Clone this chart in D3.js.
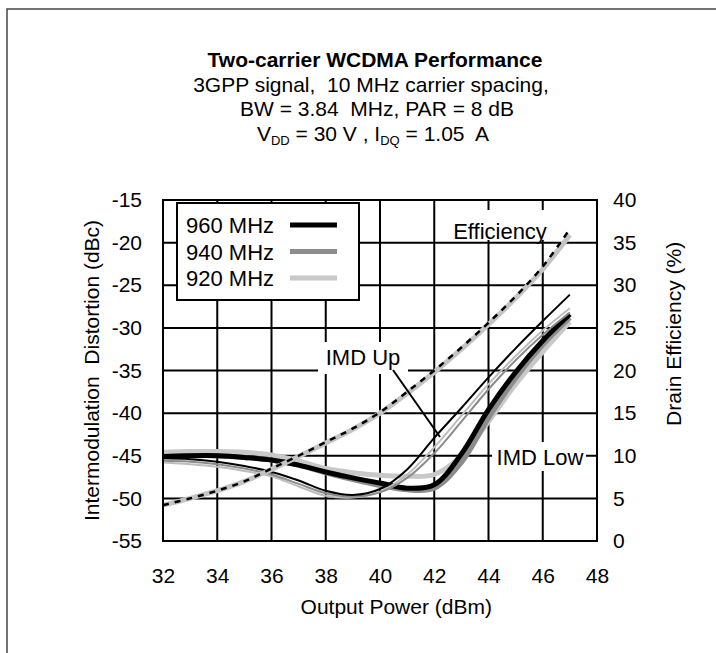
<!DOCTYPE html>
<html><head><meta charset="utf-8">
<script src="https://cdn.jsdelivr.net/npm/d3@7"></script>
<style>
html,body{margin:0;padding:0;background:#fff;}
svg text{font-family:"Liberation Sans",Arial,sans-serif;fill:#000;white-space:pre;}
</style></head>
<body><svg id="c" width="716" height="653"></svg>
<script>
const power = [32,33,34,35,36,37,38,39,40,41,42,43,44,45,46,47];
const xTicks = [32,34,36,38,40,42,44,46,48];
const yLeftTicks = [-15,-20,-25,-30,-35,-40,-45,-50,-55];
const yRightTicks = [40,35,30,25,20,15,10,5,0];
const freqs = ["960 MHz","940 MHz","920 MHz"];
const colors = ["#000000","#8c8c8c","#c8c8c8"];

const eff960 = [4.2,5.0,5.9,7.0,8.5,10.0,11.6,13.2,15.1,17.5,20.0,22.7,25.6,28.7,32.2,36.6];
const eff920 = [4.2,5.0,5.9,7.0,8.4,9.9,11.5,13.1,15.0,17.3,19.8,22.5,25.4,28.5,31.9,35.9];

const imdUp960 = [-45.3,-45.4,-45.7,-46.2,-46.9,-47.9,-49.1,-49.6,-48.9,-46.6,-42.9,-39.4,-35.8,-32.4,-29.2,-26.1];
const imdUp940 = [-45.6,-45.7,-46.0,-46.5,-47.2,-48.3,-49.4,-49.8,-49.3,-47.6,-44.7,-41.0,-37.2,-33.8,-30.8,-28.2];
const imdUp920 = [-45.8,-46.0,-46.3,-46.8,-47.4,-48.6,-49.7,-49.9,-49.2,-47.2,-44.0,-40.3,-36.6,-33.3,-30.3,-27.7];
const imdLow960 = [-45.1,-45.0,-45.0,-45.2,-45.5,-46.1,-46.9,-47.6,-48.2,-48.8,-48.4,-44.8,-39.6,-35.2,-31.5,-28.4];
const imdLow940 = [-45.1,-45.0,-45.0,-45.2,-45.5,-46.1,-47.0,-47.8,-48.5,-49.0,-48.8,-45.8,-40.6,-35.9,-32.0,-28.8];
const imdLow920 = [-44.6,-44.5,-44.5,-44.6,-44.9,-45.6,-46.5,-47.0,-47.3,-47.4,-47.2,-45.0,-41.0,-36.6,-32.8,-29.3];

const svg = d3.select("#c");
const L = 163, R = 597, T = 200, B = 541;
const x = d3.scaleLinear().domain([32,48]).range([L,R]);
const yL = d3.scaleLinear().domain([-55,-15]).range([B,T]);
const yR = d3.scaleLinear().domain([0,40]).range([B,T]);
const FS = 21;

// outer frame (left and top)
svg.append("path").attr("d",`M7,653 L7,9 L716,9`).attr("fill","none").attr("stroke","#444").attr("stroke-width",1.5);

// titles
svg.append("text").attr("x",375).attr("y",67).attr("text-anchor","middle").attr("font-size",21).attr("font-weight","bold").text("Two-carrier WCDMA Performance");
svg.append("text").attr("x",371).attr("y",92).attr("text-anchor","middle").attr("font-size",FS).text("3GPP signal,  10 MHz carrier spacing,");
svg.append("text").attr("x",377).attr("y",116).attr("text-anchor","middle").attr("font-size",FS).text("BW = 3.84  MHz, PAR = 8 dB");
const t3 = svg.append("text").attr("x",373).attr("y",141).attr("text-anchor","middle").attr("font-size",FS);
t3.append("tspan").text("V");
t3.append("tspan").attr("font-size",13).attr("dy",4).text("DD");
t3.append("tspan").attr("dy",-4).text(" = 30 V , I");
t3.append("tspan").attr("font-size",13).attr("dy",4).text("DQ");
t3.append("tspan").attr("dy",-4).text(" = 1.05  A");

// grid
const g = svg.append("g");
g.selectAll("line.v").data(xTicks).join("line").attr("x1",d=>x(d)).attr("x2",d=>x(d)).attr("y1",T).attr("y2",B).attr("stroke","#000").attr("stroke-width",2);
g.selectAll("line.h").data(yLeftTicks).join("line").attr("class","h").attr("y1",d=>yL(d)).attr("y2",d=>yL(d)).attr("x1",L).attr("x2",R).attr("stroke","#000").attr("stroke-width",2);

// axes labels via d3 axes
const fmt = d=>String(d);
const axB = d3.axisBottom(x).tickValues(xTicks).tickFormat(fmt).tickSize(0).tickPadding(27);
const gb = svg.append("g").attr("transform",`translate(0,${B})`).call(axB);
const axLft = d3.axisLeft(yL).tickValues(yLeftTicks).tickFormat(fmt).tickSize(0).tickPadding(21);
const gl = svg.append("g").attr("transform",`translate(${L},0)`).call(axLft);
const axRt = d3.axisRight(yR).tickValues(yRightTicks).tickFormat(fmt).tickSize(0).tickPadding(16);
const gr = svg.append("g").attr("transform",`translate(${R},0)`).call(axRt);
[gb,gl,gr].forEach(a=>{a.select(".domain").remove();a.selectAll("text").attr("font-size",FS).attr("font-family","Liberation Sans, Arial, sans-serif").attr("fill","#000");});

svg.append("text").attr("x",x(40.6)).attr("y",614).attr("text-anchor","middle").attr("font-size",FS).text("Output Power (dBm)");
svg.append("text").attr("transform",`translate(99,${(T+B)/2}) rotate(-90)`).attr("text-anchor","middle").attr("font-size",FS).text("Intermodulation  Distortion (dBc)");
svg.append("text").attr("transform",`translate(681,${yR(25)+6}) rotate(-90)`).attr("text-anchor","middle").attr("font-size",FS).text("Drain Efficiency (%)");

// curves
const lineL = d3.line().x((d,i)=>x(power[i])).y(d=>yL(d)).curve(d3.curveCatmullRom.alpha(0.5));
const lineR = d3.line().x((d,i)=>x(power[i])).y(d=>yR(d)).curve(d3.curveCatmullRom.alpha(0.5));
const plot = svg.append("g");
const thick = [[imdLow920,colors[2]],[imdLow940,colors[1]],[imdLow960,colors[0]]];
thick.forEach(([d,c])=>plot.append("path").attr("d",lineL(d)).attr("fill","none").attr("stroke",c).attr("stroke-width",5));
const thin = [[imdUp920,"#bdbdbd"],[imdUp940,colors[1]],[imdUp960,colors[0]]];
thin.forEach(([d,c])=>plot.append("path").attr("d",lineL(d)).attr("fill","none").attr("stroke",c).attr("stroke-width",2));
plot.append("path").attr("d",lineR(eff920)).attr("fill","none").attr("stroke","#c4c4c4").attr("stroke-width",5);
plot.append("path").attr("d",lineR(eff960)).attr("fill","none").attr("stroke","#000").attr("stroke-width",2.5).attr("stroke-dasharray","6,6");

// annotations
function label(txt,x0,y0,x1,y1,cx,base){
  svg.append("rect").attr("x",x0).attr("y",y0).attr("width",x1-x0).attr("height",y1-y0).attr("fill","#fff");
  svg.append("text").attr("x",cx).attr("y",base).attr("text-anchor","middle").attr("font-size",22).text(txt);
}
label("Efficiency",448,210,552,240,500,238.5);
label("IMD Up",318,342,408,374,363,365);
label("IMD Low",492,442,586,471,540,465);
svg.append("line").attr("x1",393).attr("y1",370).attr("x2",440).attr("y2",437).attr("stroke","#000").attr("stroke-width",2);

// legend
const lg = svg.append("g");
lg.append("rect").attr("x",177).attr("y",203).attr("width",182).attr("height",97).attr("fill","#fff").attr("stroke","#000").attr("stroke-width",2);
freqs.forEach((f,i)=>{
  const yy = 225 + i*26.5;
  lg.append("text").attr("x",186).attr("y",yy+8).attr("font-size",22).text(f);
  lg.append("line").attr("x1",290).attr("x2",337).attr("y1",yy).attr("y2",yy).attr("stroke",colors[i]).attr("stroke-width",5);
});

// plot border
svg.append("rect").attr("x",L).attr("y",T).attr("width",R-L).attr("height",B-T).attr("fill","none").attr("stroke","#000").attr("stroke-width",2);
</script></body></html>
